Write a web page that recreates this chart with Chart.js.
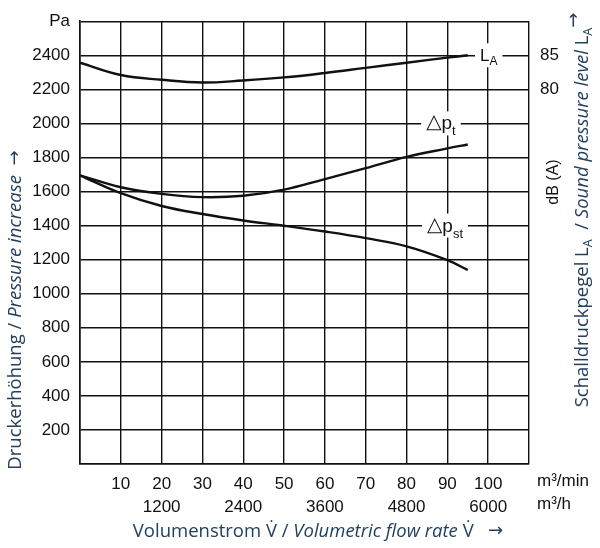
<!DOCTYPE html>
<html><head><meta charset="utf-8">
<script src="https://cdn.jsdelivr.net/npm/chart.js@4.4.0/dist/chart.umd.min.js"></script>
<style>html,body{margin:0;padding:0;background:#fff}#wrap{width:600px;height:548px}</style>
</head><body><div id="wrap"><canvas id="c" width="600" height="548"></canvas></div>
<script>
// ---- data ----
const flowMin = [0, 10, 20, 30, 40, 50, 60, 70, 80, 90, 95];            // m³/min
const dpTotal = [1695, 1625, 1586, 1567, 1575, 1611, 1673, 1737, 1803, 1853, 1876]; // Pa
const dpStatic = [1695, 1590, 1515, 1468, 1430, 1399, 1365, 1326, 1278, 1197, 1139]; // Pa
const soundLevel = [83.9, 82.1, 81.4, 81.0, 81.3, 81.75, 82.4, 83.15, 83.9, 84.65, 85.0]; // dB(A)
const xTickMin = [10, 20, 30, 40, 50, 60, 70, 80, 90, 100];
const xTickHour = {20: '1200', 40: '2400', 60: '3600', 80: '4800', 100: '6000'};
const yTickPa = [200, 400, 600, 800, 1000, 1200, 1400, 1600, 1800, 2000, 2200, 2400];
const dbTicks = [80, 85];

const TICK_FONT = 'Liberation Sans, Arial, sans-serif';
const TITLE_FONT = '"Open Sans", sans-serif';
const ARROW_FONT = '18px "DejaVu Sans"';
const TITLE_COLOR = '#23405f';
const INK = '#111';

function pts(ys) { return flowMin.map((x, i) => ({x: x, y: ys[i]})); }

function runsWidth(ctx, runs) {
  let w = 0;
  for (const r of runs) { ctx.font = r.font; w += ctx.measureText(r.t).width; }
  return w;
}
function drawRuns(ctx, runs, x, y, align) {
  let w = runsWidth(ctx, runs);
  let cx = align === 'center' ? x - w / 2 : (align === 'right' ? x - w : x);
  ctx.textBaseline = 'alphabetic';
  ctx.textAlign = 'left';
  for (const r of runs) {
    ctx.font = r.font;
    ctx.fillText(r.t, cx, y + (r.dy || 0));
    cx += ctx.measureText(r.t).width;
  }
  return w;
}

const overlay = {
  id: 'overlay',
  afterDraw(chart) {
    const ctx = chart.ctx;
    const xs = chart.scales.x, ys = chart.scales.y;
    ctx.save();
    // curve labels with white background on grid lines
    const labels = [
      {xv: 98, yv: 2400, runs: [
        {t: 'L', font: '17px ' + TICK_FONT},
        {t: 'A', font: '12px ' + TICK_FONT, dy: 4}]},
      {xv: 84.8, yv: 2000, runs: [
        {t: '\u25B3', font: '20px "DejaVu Sans"', dy: -1},
        {t: 'p', font: '19px ' + TICK_FONT},
        {t: 't', font: '13px ' + TICK_FONT, dy: 6}]},
      {xv: 85.0, yv: 1400, runs: [
        {t: '\u25B3', font: '20px "DejaVu Sans"', dy: -1},
        {t: 'p', font: '19px ' + TICK_FONT},
        {t: 'st', font: '13px ' + TICK_FONT, dy: 6}]}
    ];
    for (const l of labels) {
      const px = xs.getPixelForValue(l.xv), py = ys.getPixelForValue(l.yv);
      const w = runsWidth(ctx, l.runs);
      ctx.fillStyle = '#fff';
      ctx.fillRect(px - 5, py - 12, w + 10, 24);
      ctx.fillStyle = INK;
      drawRuns(ctx, l.runs, px, py + 6, 'left');
    }

    // unit labels
    ctx.fillStyle = INK;
    drawRuns(ctx, [{t: 'm\u00B3/min', font: '17px ' + TICK_FONT}], 537, 486, 'left');
    drawRuns(ctx, [{t: 'm\u00B3/h', font: '17px ' + TICK_FONT}], 537, 509, 'left');

    // dB (A)
    ctx.save();
    ctx.translate(558, 182);
    ctx.rotate(-Math.PI / 2);
    drawRuns(ctx, [{t: 'dB (A)', font: '16px ' + TICK_FONT}], 0, 0, 'center');
    ctx.restore();

    // axis titles
    ctx.fillStyle = TITLE_COLOR;
    const reg = '18.5px ' + TITLE_FONT, ita = 'italic 18.5px ' + TITLE_FONT, sub = '12.5px ' + TITLE_FONT;
    drawRuns(ctx, [
      {t: 'Volumenstrom V\u0307 / ', font: reg},
      {t: 'Volumetric flow rate', font: ita},
      {t: ' V\u0307   ', font: reg},
      {t: '\u2192', font: ARROW_FONT, dy: -1}], 318, 537, 'center');

    ctx.save();
    ctx.translate(21, 310);
    ctx.rotate(-Math.PI / 2);
    drawRuns(ctx, [
      {t: 'Druckerh\u00F6hung / ', font: reg},
      {t: 'Pressure increase', font: ita},
      {t: '  ', font: reg},
      {t: '\u2192', font: ARROW_FONT, dy: -1}], 0, 0, 'center');
    ctx.restore();

    ctx.save();
    ctx.translate(588, 210);
    ctx.rotate(-Math.PI / 2);
    drawRuns(ctx, [
      {t: 'Schalldruckpegel L', font: reg},
      {t: 'A', font: sub, dy: 4},
      {t: '  / ', font: reg},
      {t: 'Sound pressure level', font: ita},
      {t: ' L', font: reg},
      {t: 'A', font: sub, dy: 4},
      {t: '\u2192', font: ARROW_FONT, dy: -9}], 0, 0, 'center');
    ctx.restore();
    ctx.restore();
  }
};

const lineStyle = {borderColor: INK, borderWidth: 2.4, pointRadius: 0, fill: false, tension: 0.4};

new Chart(document.getElementById('c'), {
  type: 'line',
  data: {
    datasets: [
      Object.assign({label: 'LA', data: pts(soundLevel), yAxisID: 'y2'}, lineStyle),
      Object.assign({label: 'dpt', data: pts(dpTotal), yAxisID: 'y'}, lineStyle),
      Object.assign({label: 'dpst', data: pts(dpStatic), yAxisID: 'y'}, lineStyle)
    ]
  },
  options: {
    responsive: false,
    animation: false,
    devicePixelRatio: 1,
    layout: {padding: {top: 14, left: 0, right: 0, bottom: 0}},
    plugins: {legend: {display: false}, tooltip: {enabled: false}},
    scales: {
      x: {
        type: 'linear', min: 0, max: 110,
        grid: {color: INK, lineWidth: 1.4, drawTicks: false},
        border: {color: INK, width: 1.6},
        ticks: {
          stepSize: 10, autoSkip: false, maxRotation: 0, padding: 9, color: INK,
          font: {family: TICK_FONT, size: 17, lineHeight: 1.35},
          callback: (v) => xTickMin.includes(v) ? [String(v), xTickHour[v] || ''] : ''
        },
        afterFit: (s) => { s.height = 84; }
      },
      y: {
        position: 'left', min: 0, max: 2600,
        grid: {color: INK, lineWidth: 1.4, drawTicks: false},
        border: {color: INK, width: 1.6},
        ticks: {
          stepSize: 200, autoSkip: false, padding: 10, color: INK,
          font: {family: TICK_FONT, size: 17},
          callback: (v) => v === 2600 ? 'Pa' : (yTickPa.includes(v) ? String(v) : '')
        },
        afterFit: (s) => { s.width = 80; }
      },
      y2: {
        position: 'right', min: 25, max: 90,
        grid: {display: false, drawTicks: false},
        border: {display: false},
        ticks: {
          stepSize: 5, autoSkip: false, padding: 11, color: INK,
          font: {family: TICK_FONT, size: 17},
          callback: (v) => dbTicks.includes(v) ? String(v) : ''
        },
        afterFit: (s) => { s.width = 71; }
      }
    }
  },
  plugins: [overlay]
});
</script>
</body></html>
